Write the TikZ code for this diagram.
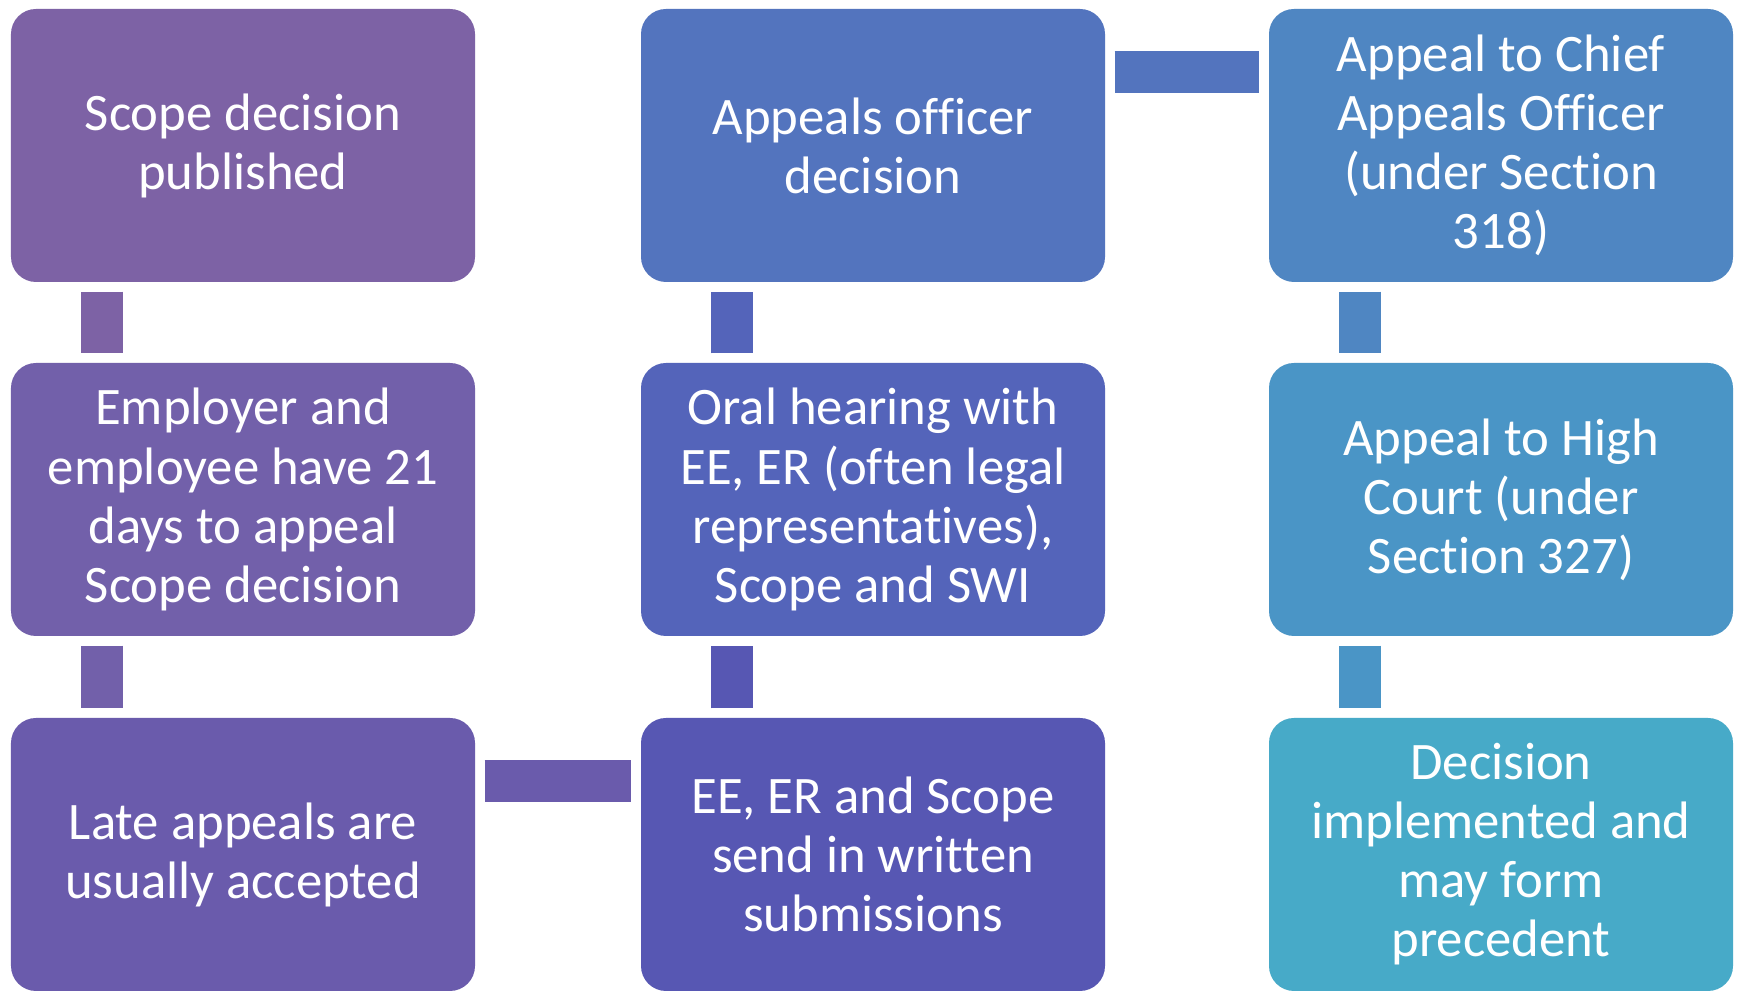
\documentclass[tikz,border=0pt]{standalone}
\usepackage{fontspec}
\setmainfont[Ligatures=NoCommon]{Carlito}
\definecolor{pubC}{HTML}{7D62A5}
\definecolor{empC}{HTML}{7260AA}
\definecolor{lateC}{HTML}{6A5BAC}
\definecolor{writC}{HTML}{5757B3}
\definecolor{oralC}{HTML}{5464BA}
\definecolor{offC}{HTML}{5374BE}
\definecolor{chiefC}{HTML}{4F86C2}
\definecolor{highC}{HTML}{4A95C6}
\definecolor{implC}{HTML}{47AAC8}
\begin{document}
\begin{tikzpicture}[line join=round,font=\fontsize{15}{16.8}\selectfont,
	box/.style={rounded corners=2.5mm,minimum width=4.64cm,minimum height=2.73cm,inner sep=0pt,align=center,text=white,fill=#1},
	bar/.style={line width=4.2mm,draw=#1}]
				\def\xa{2.43}
				\def\xb{8.73}
				\def\xc{15.01}
				\def\ya{8.445}
				\def\yb{4.905}
				\def\yc{1.355}
				\fill[white] (0,0) rectangle (17.4,9.9);
				\path
				(\xa,\ya) node[box=pubC] (pub) {Scope decision\\published}
				(\xa,\yb) node[box=empC] (emp) {Employer and\\employee have 21\\days to appeal\\Scope decision}
				(\xa,\yc) node[box=lateC] (late) {Late appeals are\\usually accepted}
				(\xb,\yc) node[box=writC] (writ) {EE, ER and Scope\\send in written\\submissions}
				(\xb,\yb) node[box=oralC] (oral) {Oral hearing with\\EE, ER (often legal\\representatives),\\Scope and SWI}
				(\xb,\ya) node[box=offC] (off) {Appeals officer\\decision}
				(\xc,\ya) node[box=chiefC] (chief) {Appeal to Chief\\Appeals Officer\\(under Section\\318)}
				(\xc,\yb) node[box=highC] (high) {Appeal to High\\Court (under\\Section 327)}
				(\xc,\yc) node[box=implC] (impl) {Decision\\implemented and\\may form\\precedent}
				;
				\draw[bar=pubC] ([shift={(.92,-.09)}]pub.south west)--([shift={(.92,.09)}]emp.north west);
				\draw[bar=empC] ([shift={(.92,-.09)}]emp.south west)--([shift={(.92,.09)}]late.north west);
				\draw[bar=lateC] ([shift={(.09,-.64)}]late.north east)--([shift={(-.09,-.64)}]writ.north west);
				\draw[bar=writC] ([shift={(.92,.09)}]writ.north west)--([shift={(.92,-.09)}]oral.south west);
				\draw[bar=oralC] ([shift={(.92,.09)}]oral.north west)--([shift={(.92,-.09)}]off.south west);
				\draw[bar=offC] ([shift={(.09,-.635)}]off.north east)--([shift={(-.09,-.635)}]chief.north west);
				\draw[bar=chiefC] ([shift={(.92,-.09)}]chief.south west)--([shift={(.92,.09)}]high.north west);
				\draw[bar=highC] ([shift={(.92,-.09)}]high.south west)--([shift={(.92,.09)}]impl.north west);
		\end{tikzpicture}
\end{document}
